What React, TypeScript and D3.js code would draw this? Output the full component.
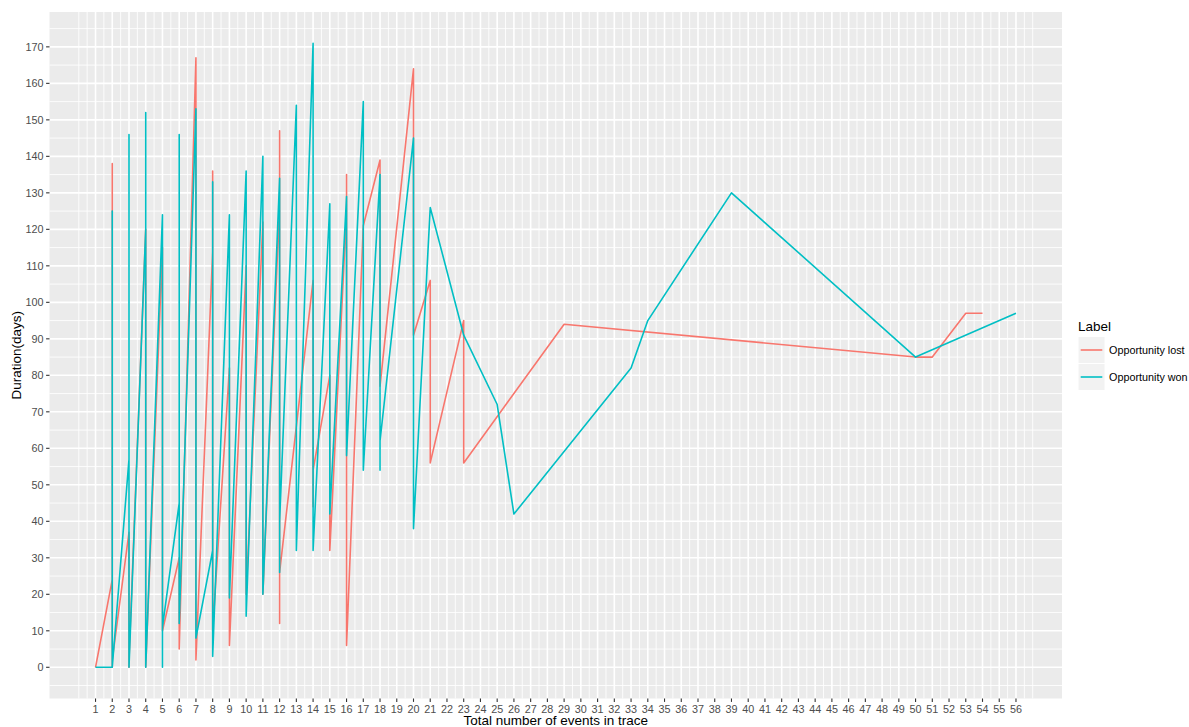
import React from 'react';
import * as d3 from 'd3';

// Opportunity lost: events in trace (x) and duration in days (y), in drawing order
const lostEvents = [1, 2, 2, 2, 2, 3, 3, 3, 4, 4, 5, 5, 6, 6, 7, 7, 8, 8, 8, 9, 9, 10, 10, 11, 11, 12, 12, 12, 12, 14, 14, 14, 15, 15, 16, 16, 16, 17, 18, 18, 20, 20, 21, 21, 23, 23, 29, 50, 51, 53, 54];
const lostDuration = [0, 24, 138, 0, 2, 37, 0, 2, 120, 0, 115, 10, 30, 5, 167, 2, 114, 136, 10, 82, 6, 110, 20, 122, 20, 127, 147, 12, 26, 106, 44, 54, 80, 32, 125, 135, 6, 121, 139, 77, 164, 91, 106, 56, 95, 56, 94, 85, 85, 97, 97];

// Opportunity won
const wonEvents = [1, 2, 2, 2, 3, 3, 3, 4, 4, 4, 5, 5, 5, 6, 6, 6, 7, 7, 8, 8, 8, 9, 9, 10, 10, 11, 11, 12, 12, 12, 13, 13, 14, 14, 15, 15, 16, 16, 17, 17, 18, 18, 18, 20, 20, 21, 23, 25, 26, 33, 34, 39, 50, 56];
const wonDuration = [0, 0, 125, 0, 57, 146, 0, 120, 152, 0, 124, 0, 11, 45, 146, 12, 153, 8, 32, 133, 3, 124, 19, 136, 14, 140, 20, 134, 26, 40, 154, 32, 171, 32, 127, 42, 129, 58, 155, 54, 135, 54, 62, 145, 38, 126, 91, 72, 42, 82, 95, 130, 85, 97];

const xTicks = d3.range(1, 57);
const yTicks = d3.range(0, 171, 10);
const seriesLabels = ['Opportunity lost', 'Opportunity won'];
const seriesColors = ['#F8766D', '#00BFC4'];

const FONT = '"Liberation Sans", Arial, Helvetica, sans-serif';

export default function App() {
  const W = 1189, H = 727;
  const left = 49.5, right = 1062, top = 12, bottom = 698.5;

  const xAll = [...lostEvents, ...wonEvents];
  const yAll = [...lostDuration, ...wonDuration];
  const [x0, x1] = d3.extent(xAll) as [number, number];
  const [y0, y1] = d3.extent(yAll) as [number, number];
  const ex = (x1 - x0) * 0.05;
  const ey = (y1 - y0) * 0.05;
  const x = d3.scaleLinear().domain([x0 - ex, x1 + ex]).range([left, right]);
  const y = d3.scaleLinear().domain([y0 - ey, y1 + ey]).range([bottom, top]);

  const xMinor = d3.range(0, 57.01, 0.5).filter(v => !xTicks.includes(v) && v >= x.domain()[0] && v <= x.domain()[1]);
  const yMinor = d3.range(-10, 181, 5).filter(v => !yTicks.includes(v) && v >= y.domain()[0] && v <= y.domain()[1]);

  const line = d3.line<[number, number]>().x(d => x(d[0])).y(d => y(d[1]));
  const series = [
    lostEvents.map((e, i) => [e, lostDuration[i]] as [number, number]),
    wonEvents.map((e, i) => [e, wonDuration[i]] as [number, number]),
  ];

  const legX = 1078, legTitleY = 330.5, keyTop = 336.5, keySize = 27;

  return (
    <svg width={W} height={H} style={{ position: 'absolute', left: 0, top: 0, background: '#fff' }} fontFamily={FONT}>
      <rect x={0} y={0} width={W} height={H} fill="#fff" />
      <rect x={left} y={top} width={right - left} height={bottom - top} fill="#EBEBEB" />
      {xMinor.map(v => (
        <line key={'xm' + v} x1={x(v)} x2={x(v)} y1={top} y2={bottom} stroke="#fff" strokeWidth={0.85} />
      ))}
      {yMinor.map(v => (
        <line key={'ym' + v} x1={left} x2={right} y1={y(v)} y2={y(v)} stroke="#fff" strokeWidth={0.85} />
      ))}
      {xTicks.map(v => (
        <line key={'xM' + v} x1={x(v)} x2={x(v)} y1={top} y2={bottom} stroke="#fff" strokeWidth={1.6} />
      ))}
      {yTicks.map(v => (
        <line key={'yM' + v} x1={left} x2={right} y1={y(v)} y2={y(v)} stroke="#fff" strokeWidth={1.6} />
      ))}
      <g clipPath="url(#panelClip)">
        {series.map((pts, i) => (
          <path key={'s' + i} d={line(pts) || ''} fill="none" stroke={seriesColors[i]} strokeWidth={1.6} strokeLinejoin="round" />
        ))}
      </g>
      <defs>
        <clipPath id="panelClip">
          <rect x={left} y={top} width={right - left} height={bottom - top} />
        </clipPath>
      </defs>
      {/* x axis */}
      {xTicks.map(v => (
        <g key={'xt' + v}>
          <line x1={x(v)} x2={x(v)} y1={bottom} y2={bottom + 3.4} stroke="#333" strokeWidth={1.1} />
          <text x={x(v)} y={bottom + 14.5} textAnchor="middle" fontSize={10.8} fill="#4D4D4D">{v}</text>
        </g>
      ))}
      {/* y axis */}
      {yTicks.map(v => (
        <g key={'yt' + v}>
          <line x1={left - 3.4} x2={left} y1={y(v)} y2={y(v)} stroke="#333" strokeWidth={1.1} />
          <text x={left - 6} y={y(v) + 3.8} textAnchor="end" fontSize={10.8} fill="#4D4D4D">{v}</text>
        </g>
      ))}
      <text x={(left + right) / 2} y={725} textAnchor="middle" fontSize={13.5} fill="#000">Total number of events in trace</text>
      <text transform={`translate(21,${(top + bottom) / 2}) rotate(-90)`} textAnchor="middle" fontSize={13.5} fill="#000">Duration(days)</text>
      {/* legend */}
      <text x={legX} y={legTitleY} fontSize={13.5} fill="#000">Label</text>
      {seriesLabels.map((lab, i) => {
        const ky = keyTop + i * keySize;
        return (
          <g key={'lg' + i}>
            <rect x={legX} y={ky} width={keySize} height={keySize} fill="#F2F2F2" stroke="#fff" strokeWidth={1} />
            <line x1={legX + 2.7} x2={legX + keySize - 2.7} y1={ky + keySize / 2} y2={ky + keySize / 2} stroke={seriesColors[i]} strokeWidth={1.6} />
            <text x={legX + keySize + 4} y={ky + keySize / 2 + 3.8} fontSize={10.8} fill="#000">{lab}</text>
          </g>
        );
      })}
    </svg>
  );
}
